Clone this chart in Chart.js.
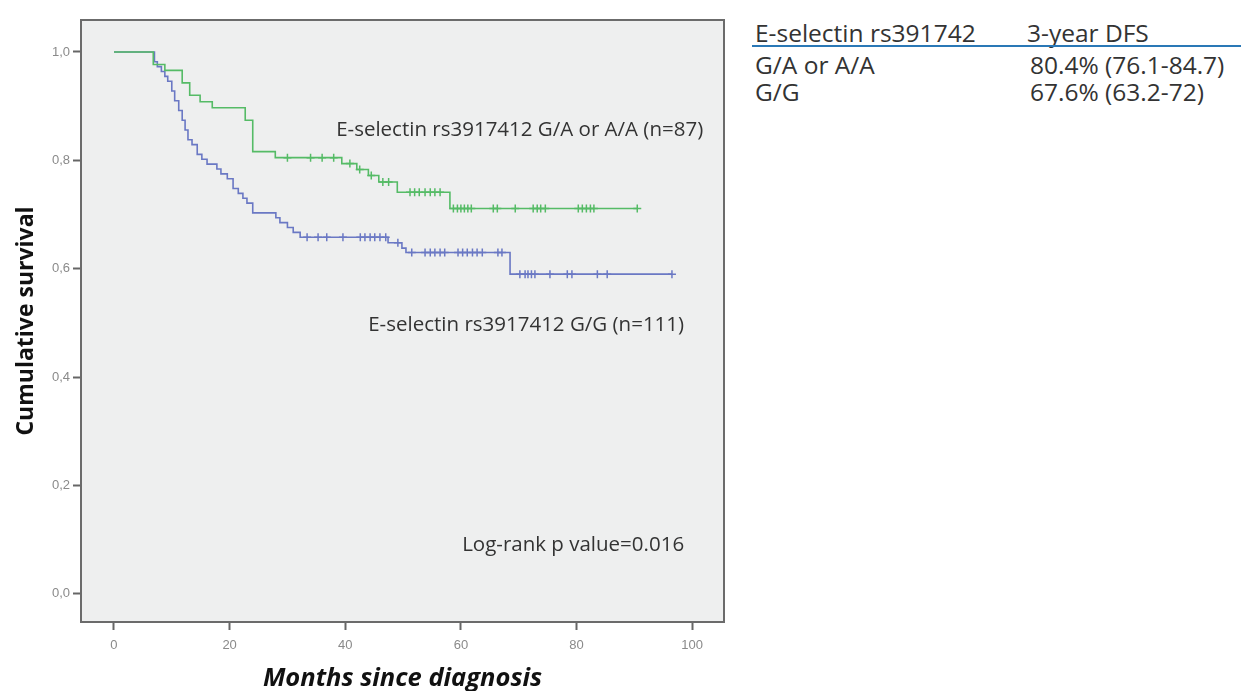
<!DOCTYPE html>
<html>
<head>
<meta charset="utf-8">
<script src="https://cdn.jsdelivr.net/npm/chart.js@4.4.0/dist/chart.umd.min.js"></script>
<style>
  body { margin: 0; background: #fff; width: 1241px; height: 691px; overflow: hidden; font-family: "Open Sans", sans-serif; color: #333; }
  #wrap { position: absolute; left: 0; top: 0; width: 740px; height: 691px; }
  .t { position: absolute; font-size: 24.5px; line-height: 26px; white-space: nowrap; }
  #rule { position: absolute; left: 752px; top: 45px; width: 489px; height: 2px; background: #2a78b6; }
</style>
</head>
<body>
<div id="wrap"><canvas id="km_chart"></canvas></div>

<div class="t" style="left:755px;top:20px">E-selectin rs391742</div>
<div class="t" style="left:1027px;top:20px">3-year DFS</div>
<div id="rule"></div>
<div class="t" style="left:755px;top:52px">G/A or A/A</div>
<div class="t" style="left:1030px;top:52px">80.4% (76.1-84.7)</div>
<div class="t" style="left:755px;top:79px">G/G</div>
<div class="t" style="left:1030px;top:79px">67.6% (63.2-72)</div>

<script>
// Kaplan-Meier step points: time (months) and survival after the step
const greenTimes = [0, 6.8, 8.8, 11.8, 13.1, 14.9, 17.0, 22.7, 24.0, 27.9, 39.4, 42.0, 44.0, 45.8, 49.0, 58.1, 90.5];
const greenSurv  = [1.0, 0.977, 0.966, 0.943, 0.920, 0.908, 0.897, 0.874, 0.816, 0.805, 0.794, 0.783, 0.772, 0.760, 0.741, 0.711, 0.711];
const blueTimes = [0, 7.0, 7.5, 8.2, 8.8, 9.3, 10.0, 10.5, 11.2, 11.8, 12.3, 12.8, 13.5, 14.4, 15.2, 16.1, 17.8, 18.5, 19.6, 20.6, 21.5, 22.3, 23.0, 24.0, 28.0, 28.7, 30.0, 31.0, 32.2, 47.4, 49.8, 50.5, 68.5, 96.5];
const blueSurv  = [1.0, 0.982, 0.973, 0.964, 0.955, 0.946, 0.928, 0.910, 0.892, 0.874, 0.856, 0.838, 0.829, 0.811, 0.802, 0.793, 0.784, 0.775, 0.766, 0.748, 0.739, 0.730, 0.721, 0.703, 0.694, 0.685, 0.676, 0.667, 0.658, 0.648, 0.638, 0.630, 0.590, 0.590];

// censored observations (months)
const greenCensored = [30, 34, 36, 38, 40.8, 42.5, 44.5, 46.5, 47.5, 51.2, 52, 52.8, 53.8, 54.7, 55.5, 56.4, 58.7, 59.4, 60, 60.6, 61.2, 61.8, 65.6, 66.3, 69.4, 72.5, 73.2, 73.8, 74.6, 80.3, 81, 81.7, 82.4, 83, 90.5];
const blueCensored = [33.4, 35.3, 36.8, 39.6, 42.6, 43.4, 44.3, 45.1, 46, 47.0, 49.1, 51.5, 53.8, 54.7, 55.5, 56.4, 57.2, 59.5, 60.3, 61.1, 62, 62.8, 63.7, 66.4, 67.1, 70.2, 71.1, 71.6, 72.2, 72.8, 75.4, 78.4, 79.2, 83.6, 85.3, 96.5];

const xTicks = [0, 20, 40, 60, 80, 100];
const yTicks = [0, 0.2, 0.4, 0.6, 0.8, 1.0];

const greenColor = '#55bb66';
const blueColor = '#6a78c4';

function survAt(times, surv, t) {
  let s = surv[0];
  for (let i = 0; i < times.length; i++) { if (times[i] <= t) s = surv[i]; }
  return s;
}
function pts(times, surv) { return times.map((t, i) => ({x: t, y: surv[i]})); }
function cens(list, times, surv) { return list.map(t => ({x: t, y: survAt(times, surv, t)})); }

const plotFrame = {
  id: 'plotFrame',
  beforeDatasetsDraw(chart) {
    const {ctx, chartArea: a} = chart;
    ctx.save();
    ctx.fillStyle = '#eeefef';
    ctx.fillRect(a.left, a.top, a.width, a.height);
    ctx.restore();
  },
  afterDraw(chart) {
    const {ctx, chartArea: a, scales} = chart;
    const xs = scales.x, ys = scales.y;
    ctx.save();
    ctx.strokeStyle = '#6b6b6b';
    ctx.lineWidth = 2;
    ctx.strokeRect(a.left, a.top, a.width, a.height);
    ctx.fillStyle = '#333';
    ctx.font = '20.5px "Open Sans"';
    ctx.textAlign = 'right';
    ctx.textBaseline = 'middle';
    ctx.fillText('E-selectin rs3917412 G/A or A/A (n=87)', xs.getPixelForValue(101.9), ys.getPixelForValue(0.856));
    ctx.fillText('E-selectin rs3917412 G/G (n=111)', xs.getPixelForValue(98.6), ys.getPixelForValue(0.496));
    ctx.fillText('Log-rank p value=0.016', xs.getPixelForValue(98.6), ys.getPixelForValue(0.09));
    ctx.restore();
  }
};

const censorStyle = {showLine: false, pointStyle: 'cross', pointRadius: 4, pointBorderWidth: 1.5, pointHoverRadius: 4};

const data = {
  datasets: [
    {label: 'G/A or A/A', data: pts(greenTimes, greenSurv), showLine: true, stepped: true, borderColor: greenColor, borderWidth: 1.6, pointRadius: 0, fill: false},
    {label: 'G/G', data: pts(blueTimes, blueSurv), showLine: true, stepped: true, borderColor: blueColor, borderWidth: 1.6, pointRadius: 0, fill: false},
    Object.assign({label: 'G/A or A/A censored', data: cens(greenCensored, greenTimes, greenSurv), borderColor: greenColor, backgroundColor: greenColor}, censorStyle),
    Object.assign({label: 'G/G censored', data: cens(blueCensored, blueTimes, blueSurv), borderColor: blueColor, backgroundColor: blueColor}, censorStyle)
  ]
};

const options = {
  responsive: true,
  maintainAspectRatio: false,
  animation: false,
  layout: {padding: {top: 20, right: 16, bottom: 0, left: 0}},
  plugins: {legend: {display: false}, tooltip: {enabled: false}},
  scales: {
    x: {
      type: 'linear', min: -5.7, max: 105.5,
      afterBuildTicks: s => { s.ticks = xTicks.map(v => ({value: v})); },
      afterFit: s => { s.height = 69; },
      grid: {drawOnChartArea: false, drawTicks: true, tickLength: 8, tickColor: '#666', tickWidth: 2},
      border: {display: false},
      ticks: {color: '#8a8a8a', font: {family: 'Liberation Sans', size: 13}, padding: 8},
      title: {display: true, text: 'Months since diagnosis', color: '#111',
              font: {family: 'Open Sans', size: 25.5, weight: 'bold', style: 'italic', lineHeight: 1}, padding: {top: 0, bottom: 0}}
    },
    y: {
      type: 'linear', min: -0.052, max: 1.059,
      afterBuildTicks: s => { s.ticks = yTicks.map(v => ({value: v})); },
      afterFit: s => { s.width = 81; },
      grid: {drawOnChartArea: false, drawTicks: true, tickLength: 8, tickColor: '#666', tickWidth: 2},
      border: {display: false},
      ticks: {color: '#8a8a8a', font: {family: 'Liberation Sans', size: 13}, padding: 3,
              callback: v => v.toFixed(1).replace('.', ',')},
      title: {display: true, text: 'Cumulative survival', color: '#111',
              font: {family: 'Open Sans', size: 23, weight: 'bold'}, padding: {top: 13, bottom: 0}}
    }
  }
};

const km_chart = document.getElementById('km_chart');
new Chart(km_chart, {type: 'scatter', data: data, options: options, plugins: [plotFrame]});
</script>
</body>
</html>
